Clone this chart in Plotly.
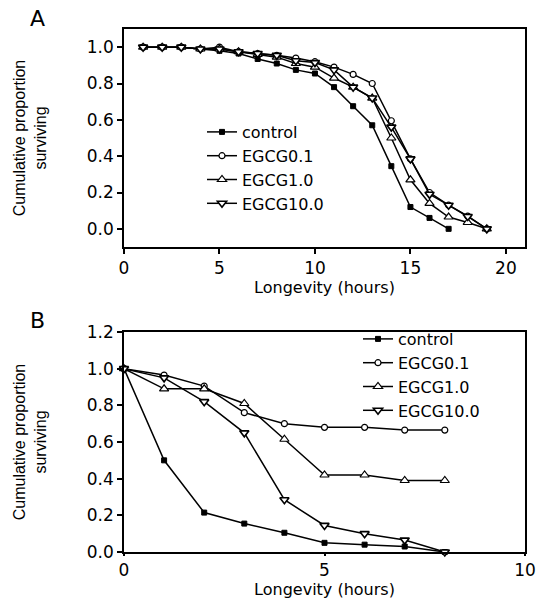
import plotly.graph_objects as go

# ---------------- data ----------------
series_names = ["control", "EGCG0.1", "EGCG1.0", "EGCG10.0"]

# Panel A
hours_a_control = list(range(1, 18))
hours_a = list(range(1, 20))
a_control = [1.0, 1.0, 1.0, 0.99, 0.98, 0.965, 0.935, 0.91, 0.875, 0.855, 0.78, 0.675, 0.57, 0.345, 0.12, 0.06, 0.0]
a_egcg01 = [1.0, 1.0, 1.0, 0.99, 1.0, 0.975, 0.965, 0.955, 0.94, 0.92, 0.89, 0.85, 0.80, 0.595, 0.385, 0.20, 0.13, 0.07, 0.0]
a_egcg1 = [1.0, 1.0, 1.0, 0.99, 0.99, 0.975, 0.96, 0.945, 0.91, 0.89, 0.83, 0.78, 0.72, 0.50, 0.27, 0.14, 0.065, 0.035, 0.0]
a_egcg10 = [1.0, 1.0, 1.0, 0.99, 0.99, 0.975, 0.965, 0.955, 0.925, 0.915, 0.875, 0.78, 0.72, 0.56, 0.385, 0.19, 0.13, 0.068, 0.0]

# Panel B
hours_b = list(range(0, 9))
b_control = [1.0, 0.50, 0.215, 0.155, 0.105, 0.05, 0.04, 0.03, 0.0]
b_egcg01 = [1.0, 0.965, 0.905, 0.76, 0.70, 0.68, 0.68, 0.665, 0.665]
b_egcg1 = [1.0, 0.89, 0.89, 0.81, 0.615, 0.42, 0.42, 0.39, 0.39]
b_egcg10 = [1.0, 0.95, 0.82, 0.65, 0.285, 0.145, 0.10, 0.065, 0.0]

y_ticks_a = [0.0, 0.2, 0.4, 0.6, 0.8, 1.0]
y_ticks_b = [0.0, 0.2, 0.4, 0.6, 0.8, 1.0, 1.2]

# ---------------- styles ----------------
FONT = "DejaVu Sans"
styles = {
    "control": dict(symbol="square", size=5, color="black", line=dict(color="black", width=1)),
    "EGCG0.1": dict(symbol="circle", size=6, color="white", line=dict(color="black", width=1.2)),
    "EGCG1.0": dict(symbol="triangle-up", size=8, color="white", line=dict(color="black", width=1.2)),
    "EGCG10.0": dict(symbol="triangle-down", size=8, color="white", line=dict(color="black", width=1.6)),
}

fig = go.Figure()

panel_a = [(hours_a_control, a_control), (hours_a, a_egcg01), (hours_a, a_egcg1), (hours_a, a_egcg10)]
panel_b = [(hours_b, b_control), (hours_b, b_egcg01), (hours_b, b_egcg1), (hours_b, b_egcg10)]

for name, (xs, ys) in zip(series_names, panel_a):
    fig.add_trace(go.Scatter(x=xs, y=ys, name=name, mode="lines+markers",
                             line=dict(color="black", width=1.5), marker=styles[name],
                             xaxis="x", yaxis="y", legend="legend", cliponaxis=False))
for name, (xs, ys) in zip(series_names, panel_b):
    fig.add_trace(go.Scatter(x=xs, y=ys, name=name, mode="lines+markers",
                             line=dict(color="black", width=1.5), marker=styles[name],
                             xaxis="x2", yaxis="y2", legend="legend2", cliponaxis=False))

W, H = 539, 604


def fx(px):
    return px / W


def fy(py):
    return 1 - py / H


xdom = [fx(124), fx(525)]

axis_common = dict(showline=True, linecolor="black", linewidth=1.5, mirror=True,
                   ticks="outside", tickwidth=1.5, tickcolor="black",
                   showgrid=False, zeroline=False, automargin=False,
                   tickfont=dict(family=FONT, size=17, color="black"))

fig.update_layout(
    width=W, height=H,
    margin=dict(l=0, r=0, t=0, b=0, autoexpand=False),
    paper_bgcolor="white", plot_bgcolor="white",
    font=dict(family=FONT, color="black"),
    xaxis=dict(domain=xdom, anchor="y", range=[0, 21], tick0=0, dtick=5, ticklen=5,
               title=dict(text="Longevity (hours)", font=dict(family=FONT, size=16), standoff=2),
               **axis_common),
    yaxis=dict(domain=[fy(247), fy(29)], anchor="x", range=[-0.1, 1.1], ticklen=5,
               tickvals=y_ticks_a, tickformat=".1f",
               title=dict(text="Cumulative proportion<br>surviving",
                          font=dict(family="Liberation Sans", size=16), standoff=36),
               **axis_common),
    xaxis2=dict(domain=xdom, anchor="y2", range=[0, 10], tick0=0, dtick=5, ticklen=2,
                title=dict(text="Longevity (hours)", font=dict(family=FONT, size=16), standoff=5),
                **axis_common),
    yaxis2=dict(domain=[fy(552), fy(332)], anchor="x2", range=[0, 1.2], ticklen=5,
                tickvals=y_ticks_b, tickformat=".1f",
                title=dict(text="Cumulative proportion<br>surviving",
                           font=dict(family="Liberation Sans", size=16), standoff=36),
                **axis_common),
    legend=dict(x=fx(202), y=fy(115), xanchor="left", yanchor="top",
                bgcolor="rgba(0,0,0,0)", font=dict(family=FONT, size=16, color="black")),
    legend2=dict(x=fx(358), y=fy(322), xanchor="left", yanchor="top",
                 bgcolor="rgba(0,0,0,0)", font=dict(family=FONT, size=16, color="black")),
    annotations=[
        dict(text="A", x=fx(37), y=fy(19), xref="paper", yref="paper", showarrow=False,
             xanchor="center", yanchor="middle",
             font=dict(family=FONT, size=22, color="black")),
        dict(text="B", x=fx(37), y=fy(320), xref="paper", yref="paper", showarrow=False,
             xanchor="center", yanchor="middle",
             font=dict(family=FONT, size=22, color="black")),
    ],
)

# remove the default 8px page margin so the 539x604 figure fills the window exactly
fig.write_html("out.html", config={"displayModeBar": False},
               post_script="document.body.style.margin='0px';")
